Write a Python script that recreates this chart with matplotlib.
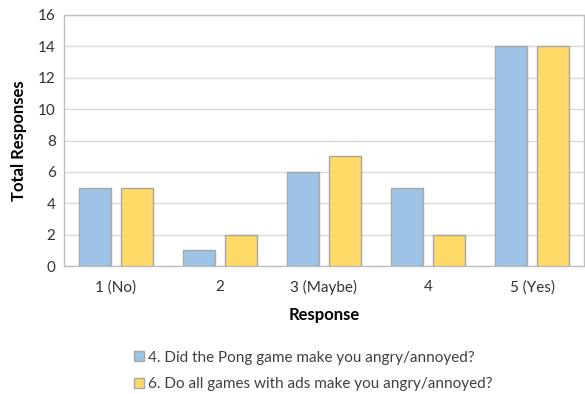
import matplotlib
matplotlib.use("Agg")
import matplotlib.pyplot as plt
import numpy as np
from matplotlib.patches import Patch

categories = ["1 (No)", "2", "3 (Maybe)", "4", "5 (Yes)"]
pong_angry = [5, 1, 6, 5, 14]
ads_angry = [5, 2, 7, 2, 14]
series_names = ["4. Did the Pong game make you angry/annoyed?",
                "6. Do all games with ads make you angry/annoyed?"]
yticks = [0, 2, 4, 6, 8, 10, 12, 14, 16]

plt.rcParams['font.family'] = ['Lato', 'DejaVu Sans']

blue = "#9DC3E6"
yellow = "#FFD966"
edge = "#A6A6A6"

fig = plt.figure(figsize=(5.85, 3.94), dpi=100)
ax = fig.add_axes([64/585, 1-266/394, 520/585, 251/394])

x = np.arange(len(categories))
w = 0.31
ax.bar(x - 0.2, pong_angry, width=w, color=blue, edgecolor=edge, linewidth=1, zorder=3)
ax.bar(x + 0.2, ads_angry, width=w, color=yellow, edgecolor=edge, linewidth=1, zorder=3)

ax.set_xlim(-0.5, len(categories) - 0.5)
ax.set_ylim(0, 16)
ax.set_yticks(yticks)
ax.set_xticks(x)
ax.set_xticklabels(categories)
ax.tick_params(axis='both', length=0, labelsize=11, colors="#333333", pad=6)
ax.tick_params(axis='x', pad=10)
ax.yaxis.grid(True, color="#D9D9D9", linewidth=1, zorder=0)
ax.set_axisbelow(True)
for s in ax.spines.values():
    s.set_color("#BFBFBF")
    s.set_linewidth(1)

ax.set_xlabel("Response", fontsize=12, fontweight='bold', labelpad=9)
ax.set_ylabel("Total Responses", fontsize=12, fontweight='bold', labelpad=8)

handles = [Patch(facecolor=blue, edgecolor=edge), Patch(facecolor=yellow, edgecolor=edge)]
fig.legend(handles, series_names, loc='upper left', bbox_to_anchor=(120/585, 1-337/394),
           frameon=False, fontsize=11, handlelength=0.65, handleheight=0.65,
           handletextpad=0.3, labelspacing=0.8, labelcolor="#404040")

fig.savefig("out.png", dpi=100)
